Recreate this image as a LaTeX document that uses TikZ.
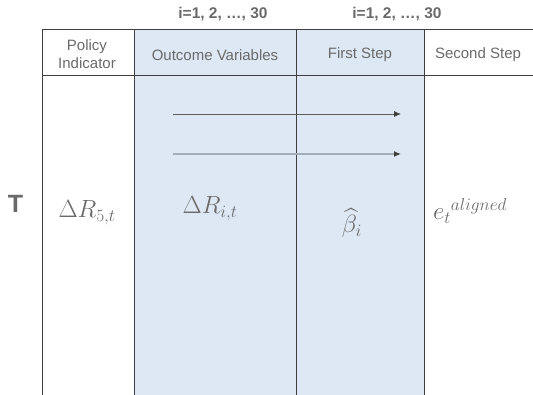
\documentclass[tikz,border=0pt]{standalone}
\usepackage{fontspec}
\setmainfont{Liberation Sans}
\usepackage{amsmath}
\usetikzlibrary{arrows.meta}
\definecolor{txtgray}{HTML}{6A6A6A}
\definecolor{linegray}{HTML}{3F3F3F}
\definecolor{colblue}{HTML}{DDE8F4}
\definecolor{arrlight}{HTML}{A3ADB8}
\begin{document}
\begin{tikzpicture}[
  x=1pt, y=-1pt,
  grid/.style={draw=linegray, line width=0.9pt},
  head/.style={font=\fontsize{15}{17.5}\selectfont, text=txtgray, align=center, inner sep=0pt},
  idx/.style={font=\fontsize{15.5}{18}\selectfont\bfseries, text=txtgray, inner sep=0pt},
  val/.style={font=\fontsize{23}{26}\selectfont, text=txtgray, inner sep=0pt},
  flow/.style={-{Latex[length=7pt,width=6pt,color=linegray]}, line width=0.8pt},
]
  \useasboundingbox (0,0) rectangle (533,395);
  \fill[colblue] (134,29) rectangle (424,395);

  % table lines
  \draw[grid] (42,29) -- (533,29);
  \draw[grid] (42,75) -- (533,75);
  \foreach \xx in {42,134,296,424}
    \draw[grid] (\xx,29) -- (\xx,395);

  % header row
  \node[head] (hdPolicy) at (87,54) {Policy\\Indicator};
  \node[head] (hdOutcome) at (215,55) {Outcome Variables};
  \node[head] (hdFirst) at (360,55) {First Step};
  \node[head] (hdSecond) at (478,55) {Second Step};

  % index labels on top
  \node[idx] (idxOutcome) at (223,14) {i=1, 2, …, 30};
  \node[idx] (idxFirst) at (397,14) {i=1, 2, …, 30};

  \node[font=\fontsize{25}{28}\selectfont\bfseries, text=txtgray, inner sep=0pt] (rowT) at (15.5,204) {T};

  % cell values
  \node[val] (valPolicy) at (87,213) {$\Delta R_{5,t}$};
  \node[val] (valOutcome) at (210,209) {$\Delta R_{i,t}$};
  \node[val] (valFirst) at (352,223) {$\widehat{\beta}_i$};
  \node[val] (valSecond) at (470,211) {${e_t}^{aligned}$};

  % arrows
  \coordinate (arrAs) at (173,114);
  \coordinate (arrAe) at (401,114);
  \coordinate (arrBs) at (173,154);
  \coordinate (arrBe) at (401,154);
  \draw[flow, linegray!85] (arrAs) -- (arrAe);
  \draw[flow, arrlight, line width=1.2pt] (arrBs) -- (arrBe);
\end{tikzpicture}
\end{document}
